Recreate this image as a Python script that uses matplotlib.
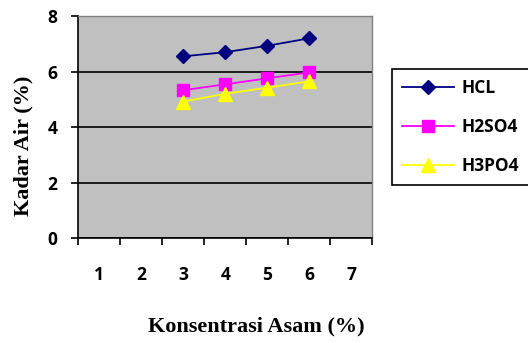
import matplotlib.pyplot as plt
import numpy as np

# Data
categories = [1, 2, 3, 4, 5, 6, 7]
konsentrasi = [3, 4, 5, 6]
hcl = [6.55, 6.70, 6.93, 7.20]
h2so4 = [5.33, 5.54, 5.76, 5.97]
h3po4 = [4.92, 5.20, 5.42, 5.65]

fig = plt.figure(figsize=(5.28, 3.43), dpi=100)
ax = fig.add_axes([0.148, 0.306, 0.557, 0.647])
ax.set_facecolor('#c0c0c0')

l1, = ax.plot(konsentrasi, hcl, color='#000080', marker='D', markersize=7.5, lw=1.3, label='HCL')
l2, = ax.plot(konsentrasi, h2so4, color='#ff00ff', marker='s', markersize=8, lw=1.3, label='H2SO4')
l3, = ax.plot(konsentrasi, h3po4, color='#ffff00', marker='^', markersize=9.5, lw=1.3, label='H3PO4')

ax.set_xlim(0.5, 7.5)
ax.set_ylim(0, 8)
ax.set_yticks([0, 2, 4, 6, 8])
ax.yaxis.grid(True, color='black', lw=1.2)
ax.set_axisbelow(True)

# category boundaries get tick marks, labels sit in the middle
ax.set_xticks(np.arange(0.5, 8, 1))
ax.set_xticklabels([])
ax.set_xticks(categories, minor=True)
ax.set_xticklabels([str(c) for c in categories], minor=True)
ax.tick_params(axis='x', which='major', direction='out', length=5, width=1.2)
ax.tick_params(axis='x', which='minor', length=0, pad=20)
ax.tick_params(axis='y', direction='out', length=5, width=1.2, pad=10)

for lab in ax.get_yticklabels() + ax.get_xticklabels(minor=True):
    lab.set_fontfamily('Open Sans')
    lab.set_fontweight('bold')
    lab.set_fontsize(12.5)

for side in ['left', 'bottom']:
    ax.spines[side].set_color('black')
    ax.spines[side].set_linewidth(1.2)
for side in ['top', 'right']:
    ax.spines[side].set_color('#808080')
    ax.spines[side].set_linewidth(1.0)

fig.text(0.485, 0.047, 'Konsentrasi Asam (%)', ha='center', va='center',
         family='Liberation Serif', weight='bold', size=16)
fig.text(0.044, 0.575, 'Kadar Air (%)', ha='center', va='center', rotation=90,
         family='Liberation Serif', weight='bold', size=16)

leg = fig.legend(handles=[l1, l2, l3], loc='upper left', bbox_to_anchor=(0.742, 0.8),
                 borderaxespad=0, frameon=True, fancybox=False, edgecolor='black', framealpha=1,
                 prop={'family': 'Open Sans', 'weight': 'bold', 'size': 12.5},
                 handlelength=3.0, labelspacing=1.2, borderpad=0.6, handletextpad=0.4)
leg.get_frame().set_linewidth(1.2)

fig.savefig('out.png', dpi=100)
